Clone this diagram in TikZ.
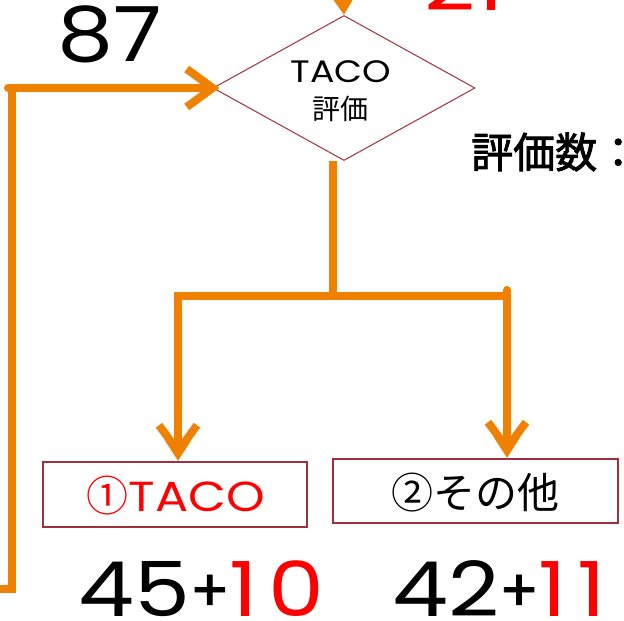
\documentclass[tikz,border=0pt]{standalone}
\usepackage{fontspec}
\setmainfont{Poppins}
\newfontfamily\wide[FakeStretch=1.17]{Poppins}
\newfontfamily\widesp[FakeStretch=1.17,LetterSpace=14]{Poppins}
\newfontfamily\cjk{Noto Sans CJK JP}
\newfontfamily\cjkb[FakeBold=2]{Noto Sans CJK JP}
\usetikzlibrary{shapes.geometric,arrows.meta}
\definecolor{ora}{RGB}{240,128,0}
\definecolor{brd}{RGB}{160,48,60}
\definecolor{rd}{RGB}{255,0,0}
\newcommand{\smallplus}{\raisebox{5pt}{\fontspec{Poppins}[FakeBold=1.5]\fontsize{58}{58}\selectfont +}}
\newcommand{\rednum}[1]{\textcolor{rd}{\widesp #1}}
\tikzset{
  flow/.style={draw=ora,line width=8pt},
  barb/.style={flow,line cap=round,-{Straight Barb[length=26pt,width=38pt]}},
  tri/.style={flow,-{Triangle[length=20pt,width=24pt]}},
  boxs/.style={draw=brd,line width=2pt,rectangle,inner sep=0pt},
  big/.style={font=\wide\fontsize{76}{76}\selectfont,inner sep=0pt}
}
\begin{document}
\begin{tikzpicture}[x=1pt,y=-1pt]
\useasboundingbox (0,0) rectangle (624,621);
% diamond
\node[diamond,draw=brd,line width=1pt,minimum width=262pt,minimum height=145pt,inner sep=0pt] (d) at (344,88) {};
\node (t1) at (341,72) {\wide\fontsize{31}{31}\selectfont TACO};
\node (t2) at (340,109) {\cjk\fontsize{28}{28}\selectfont 評価};
% boxes
\node[boxs,minimum width=264pt,minimum height=65pt] (b1) at (175,494.5) {};
\node[boxs,minimum width=285pt,minimum height=64pt] (b2) at (475.5,491) {};
\node (l1) at (176,496) {\textcolor{rd}{\cjk\fontsize{42}{42}\selectfont ①}\textcolor{rd}{\wide\fontsize{42}{42}\selectfont TACO}};
\node (l2) at (475,493) {\cjk\fontsize{42}{42}\selectfont ②その他};
% numbers
\node[big,anchor=base] (n87) at (110,61) {87};
\node[big,anchor=base west,text=rd] (n21) at (424,10) {21};
\node[anchor=west,inner sep=0pt] (cnt) at (471,152) {\cjkb\fontsize{42}{42}\selectfont 評価数：};
\node[big,anchor=base west] (s1) at (78,616) {45\smallplus\rednum{10}};
\node[big,anchor=base west] (s2) at (392,616) {42\smallplus\rednum{11}};
% connectors
\coordinate (top) at (342,-30);
\coordinate (jm) at (333,296);
\coordinate (jL) at (178,296);
\coordinate (jR) at (507,296);
\coordinate (fa) at (-20,589);
\coordinate (fb) at (12,589);
\coordinate (fc) at (12,88);
\draw[tri] (top) -- (d.north);
\draw[flow] (d.south -| jm) -- (jm);
\draw[flow] ([xshift=-4pt]jL) -- ([xshift=2pt]jR);
\draw[tri] (jL) -- (b1.north -| jL);
\draw[barb,shorten >=3pt] (jL) -- (b1.north -| jL);
\draw[tri] ([yshift=6pt]jR) -- (b2.north -| jR);
\draw[barb,shorten >=3pt] ([yshift=6pt]jR) -- (b2.north -| jR);
\draw[flow] (fa) -- (fb) -- (fc);
\draw[barb,shorten >=-7pt] ([xshift=-4pt]fc) -- (d.west);
\end{tikzpicture}
\end{document}
